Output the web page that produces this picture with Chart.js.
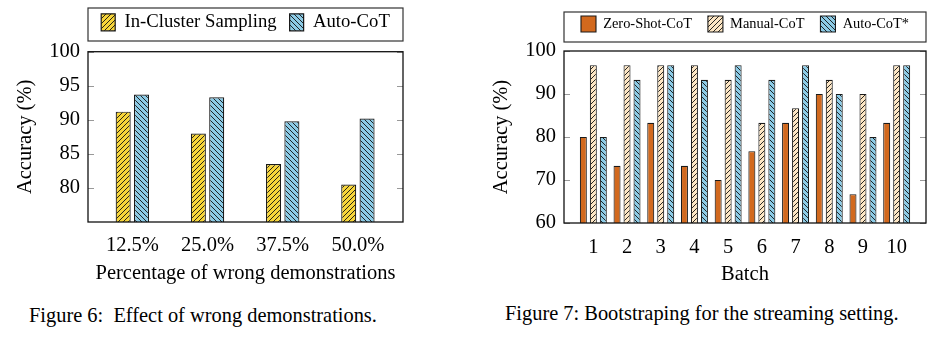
<!DOCTYPE html>
<html>
<head>
<meta charset="utf-8">
<script src="https://cdn.jsdelivr.net/npm/chart.js@4.4.1/dist/chart.umd.min.js"></script>
<style>
  body { margin: 0; background: #fff; width: 937px; height: 338px; position: relative; overflow: hidden; }
  .box { position: absolute; top: 0; height: 290px; }
  .cap { position: absolute; font-family: "Liberation Serif", "Times New Roman", serif; font-size: 20.4px; line-height: 24px; white-space: pre; color: #000; }
</style>
</head>
<body>
<div class="box" style="left:0; width:420px;"><canvas id="fig6"></canvas></div>
<div class="box" style="left:470px; width:467px;"><canvas id="fig7"></canvas></div>
<div class="cap" style="left:29px; top:303px;">Figure 6:  Effect of wrong demonstrations.</div>
<div class="cap" style="left:505px; top:301px;">Figure 7: Bootstraping for the streaming setting.</div>
<script>
// Figure 6 data
const wrongPct = ['12.5%', '25.0%', '37.5%', '50.0%'];
const inClusterAcc = [91.2, 88.0, 83.5, 80.5];
const autoCotAcc = [93.7, 93.3, 89.8, 90.2];
const fig6Ticks = [80, 85, 90, 95, 100];

// Figure 7 data
const batches = [1, 2, 3, 4, 5, 6, 7, 8, 9, 10];
const zeroShotAcc = [80.0, 73.3, 83.3, 73.3, 70.0, 76.7, 83.3, 90.0, 66.7, 83.3];
const manualCotAcc = [96.7, 96.7, 96.7, 96.7, 93.3, 83.3, 86.7, 93.3, 90.0, 96.7];
const autoCotStarAcc = [80.0, 93.3, 96.7, 93.3, 96.7, 93.3, 96.7, 90.0, 80.0, 96.7];
const fig7Ticks = [60, 70, 80, 90, 100];

Chart.defaults.font.family = '"Liberation Serif", "Times New Roman", serif';
Chart.defaults.color = '#000';

// diagonal hatch fill, 'ne' = north east lines, 'nw' = north west lines
function hatch(bg, dir) {
    const s = 5;
    const c = document.createElement('canvas');
    c.width = c.height = s;
    const g = c.getContext('2d');
    g.fillStyle = bg;
    g.fillRect(0, 0, s, s);
    g.strokeStyle = '#111';
    g.lineWidth = 0.9;
    g.beginPath();
    if (dir === 'ne') {
        g.moveTo(0, s); g.lineTo(s, 0);
        g.moveTo(-1, 1); g.lineTo(1, -1);
        g.moveTo(s - 1, s + 1); g.lineTo(s + 1, s - 1);
    } else {
        g.moveTo(0, 0); g.lineTo(s, s);
        g.moveTo(s - 1, -1); g.lineTo(s + 1, 1);
        g.moveTo(-1, s - 1); g.lineTo(1, s + 1);
    }
    g.stroke();
    return g.createPattern(c, 'repeat');
}

const xy = (vals, xs) => vals.map((v, i) => ({ x: xs[i], y: v }));

// frame around the plot, inner y ticks on both sides, box around the legend
const framePlugin = {
    id: 'frame',
    afterDatasetsDraw(chart, args, opts) {
        const { ctx, chartArea: a } = chart;
        const ys = chart.scales.y;
        ctx.save();
        ctx.strokeStyle = '#999';
        ctx.lineWidth = 1.2;
        ys.ticks.forEach(t => {
            const y = Math.round(ys.getPixelForValue(t.value)) + 0.5;
            ctx.beginPath();
            ctx.moveTo(a.left, y); ctx.lineTo(a.left + 6, y);
            ctx.moveTo(a.right - 6, y); ctx.lineTo(a.right, y);
            ctx.stroke();
        });
        ctx.strokeStyle = '#111';
        ctx.lineWidth = 1.3;
        ctx.strokeRect(a.left, a.top, a.right - a.left, a.bottom - a.top);
        ctx.strokeStyle = '#333';
        ctx.lineWidth = 1.2;
        ctx.strokeRect(a.left, opts.boxTop, a.right - a.left, opts.boxBottom - opts.boxTop);
        ctx.restore();
    }
};

const tickFont = { size: 20.5 };

// Figure 6
new Chart(document.getElementById('fig6'), {
    type: 'bar',
    data: {
        datasets: [{
            label: 'In-Cluster Sampling',
            data: xy(inClusterAcc, [1, 2, 3, 4]),
            backgroundColor: hatch('#f7d53a', 'ne'),
            borderColor: '#1a1a1a',
            borderWidth: 1.2,
            categoryPercentage: 0.488,
            barPercentage: 0.82
        }, {
            label: 'Auto-CoT',
            data: xy(autoCotAcc, [1, 2, 3, 4]),
            backgroundColor: hatch('#8ccbe6', 'nw'),
            borderColor: '#1a1a1a',
            borderWidth: 1.2,
            categoryPercentage: 0.488,
            barPercentage: 0.82
        }]
    },
    options: {
        responsive: true,
        maintainAspectRatio: false,
        animation: false,
        layout: { padding: { top: 0, right: 17, bottom: 0, left: 0 } },
        plugins: {
            tooltip: { enabled: false },
            legend: {
                position: 'top',
                fullSize: false,
                labels: { font: { size: 18.7 }, boxWidth: 14, boxHeight: 17, padding: 13, color: '#000' }
            },
            frame: { boxTop: 8, boxBottom: 41 }
        },
        scales: {
            x: {
                type: 'linear',
                offset: false,
                min: 0.41,
                max: 4.6,
                grid: { display: false, drawTicks: false },
                border: { display: false },
                afterBuildTicks: s => { s.ticks = wrongPct.map((_, i) => ({ value: i + 1 })); },
                afterFit: s => { s.height = 68; },
                ticks: { font: tickFont, padding: 11, maxRotation: 0, callback: v => wrongPct[v - 1] },
                title: { display: true, text: 'Percentage of wrong demonstrations', font: tickFont, padding: { top: 0, bottom: 4 } }
            },
            x2: {
                type: 'linear',
                position: 'top',
                grid: { display: false, drawTicks: false },
                border: { display: false },
                ticks: { display: false },
                afterFit: s => { s.height = 10; }
            },
            y: {
                min: 75,
                max: 100,
                grid: { display: false, drawTicks: false },
                border: { display: false },
                afterBuildTicks: s => { s.ticks = fig6Ticks.map(v => ({ value: v })); },
                afterFit: s => { s.width = 88; },
                ticks: { font: tickFont, padding: 8 },
                title: { display: true, text: 'Accuracy (%)', font: tickFont, padding: { top: 13, bottom: 0 } }
            }
        }
    },
    plugins: [framePlugin]
});

// Figure 7
new Chart(document.getElementById('fig7'), {
    type: 'bar',
    data: {
        datasets: [{
            label: 'Zero-Shot-CoT',
            data: xy(zeroShotAcc, batches),
            backgroundColor: '#d2691e',
            borderColor: '#1a1a1a',
            borderWidth: 1.1,
            categoryPercentage: 0.889,
            barPercentage: 0.7
        }, {
            label: 'Manual-CoT',
            data: xy(manualCotAcc, batches),
            backgroundColor: hatch('#fde6c4', 'ne'),
            borderColor: '#1a1a1a',
            borderWidth: 1.1,
            categoryPercentage: 0.889,
            barPercentage: 0.7
        }, {
            label: 'Auto-CoT*',
            data: xy(autoCotStarAcc, batches),
            backgroundColor: hatch('#8ccbe6', 'nw'),
            borderColor: '#1a1a1a',
            borderWidth: 1.1,
            categoryPercentage: 0.889,
            barPercentage: 0.7
        }]
    },
    options: {
        responsive: true,
        maintainAspectRatio: false,
        animation: false,
        layout: { padding: { top: 0, right: 11, bottom: 0, left: 0 } },
        plugins: {
            tooltip: { enabled: false },
            legend: {
                position: 'top',
                fullSize: false,
                labels: { font: { size: 14.4 }, boxWidth: 15, boxHeight: 16, padding: 16, color: '#000' }
            },
            frame: { boxTop: 12, boxBottom: 42 }
        },
        scales: {
            x: {
                type: 'linear',
                offset: false,
                min: 0.13,
                max: 10.87,
                grid: { display: false, drawTicks: false },
                border: { display: false },
                afterBuildTicks: s => { s.ticks = batches.map(b => ({ value: b })); },
                afterFit: s => { s.height = 67; },
                ticks: { font: tickFont, padding: 12, maxRotation: 0, autoSkip: false },
                title: { display: true, text: 'Batch', font: tickFont, padding: { top: 0, bottom: 3 } }
            },
            x2: {
                type: 'linear',
                position: 'top',
                grid: { display: false, drawTicks: false },
                border: { display: false },
                ticks: { display: false },
                afterFit: s => { s.height = 9; }
            },
            y: {
                min: 60,
                max: 100,
                grid: { display: false, drawTicks: false },
                border: { display: false },
                afterBuildTicks: s => { s.ticks = fig7Ticks.map(v => ({ value: v })); },
                afterFit: s => { s.width = 94; },
                ticks: { font: tickFont, padding: 8 },
                title: { display: true, text: 'Accuracy (%)', font: tickFont, padding: { top: 19, bottom: 0 } }
            }
        }
    },
    plugins: [framePlugin]
});
</script>
</body>
</html>
